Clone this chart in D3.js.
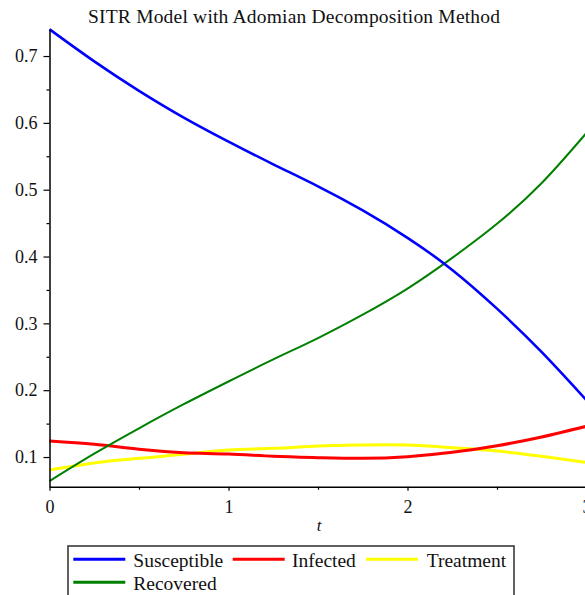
<!DOCTYPE html>
<html>
<head>
<meta charset="utf-8">
<script src="https://cdn.jsdelivr.net/npm/d3@7"></script>
<style>
  html, body { margin: 0; padding: 0; background: #fff; }
  svg { display: block; }
  text { font-family: "Liberation Serif", "DejaVu Serif", serif; fill: #111; }
</style>
</head>
<body>
<svg id="chart" width="585" height="595"></svg>
<script>
const tValues = [0, 0.25, 0.5, 0.75, 1.0, 1.25, 1.5, 1.75, 2.0, 2.25, 2.5, 2.75, 3.0];
const susceptible = [0.740, 0.692, 0.648, 0.608, 0.572, 0.538, 0.505, 0.469, 0.428, 0.380, 0.322, 0.257, 0.185];
const infected    = [0.124, 0.119, 0.1115, 0.1065, 0.1045, 0.101, 0.099, 0.098, 0.1005, 0.107, 0.117, 0.130, 0.146];
const treatment   = [0.0805, 0.091, 0.098, 0.104, 0.1105, 0.113, 0.1165, 0.118, 0.118, 0.114, 0.109, 0.101, 0.092];
const recovered   = [0.064, 0.105, 0.143, 0.179, 0.213, 0.246, 0.278, 0.313, 0.352, 0.398, 0.449, 0.510, 0.585];
const xMajorTicks = [0, 1, 2, 3];
const xMinorTicks = [0.5, 1.5, 2.5];
const yMajorTicks = [0.1, 0.2, 0.3, 0.4, 0.5, 0.6, 0.7];
const yMinorTicks = [0.15, 0.25, 0.35, 0.45, 0.55, 0.65];
const seriesNames = ["Susceptible", "Infected", "Treatment", "Recovered"];
const seriesColors = ["#0000ff", "#ff0000", "#ffff00", "#008000"];

const series = [
  {name: seriesNames[0], color: seriesColors[0], values: susceptible, width: 2.6},
  {name: seriesNames[1], color: seriesColors[1], values: infected, width: 3},
  {name: seriesNames[2], color: seriesColors[2], values: treatment, width: 3},
  {name: seriesNames[3], color: seriesColors[3], values: recovered, width: 2}
];

const svg = d3.select("#chart");
const x = d3.scaleLinear().domain([0, 3]).range([49.5, 586.5]);
const y = d3.scaleLinear().domain([0.0556, 0.74]).range([486.7, 29.3]);

// Title
svg.append("text")
  .attr("x", 294).attr("y", 23)
  .attr("text-anchor", "middle")
  .attr("font-size", 19.5)
  .attr("textLength", 412)
  .attr("lengthAdjust", "spacing")
  .text("SITR Model with Adomian Decomposition Method");

// Lines
const line = d3.line().x((d, i) => x(tValues[i])).y(d => y(d)).curve(d3.curveNatural);
[2, 1, 3, 0].forEach(k => {
  const s = series[k];
  svg.append("path")
    .attr("d", line(s.values))
    .attr("fill", "none")
    .attr("stroke", s.color)
    .attr("stroke-width", s.width);
});

// Y axis
const yAxisMajor = d3.axisLeft(y).tickValues(yMajorTicks).tickSize(6).tickSizeOuter(0).tickPadding(6)
  .tickFormat(d3.format(".1f"));
const gy = svg.append("g").attr("transform", `translate(${x(0)},0)`).call(yAxisMajor);
gy.select(".domain").attr("stroke", "#000").attr("stroke-width", 1.5);
gy.selectAll(".tick line").attr("stroke", "#000").attr("stroke-width", 1.2);
gy.selectAll(".tick text").attr("font-family", "Liberation Serif, serif").attr("font-size", 18).attr("fill", "#111");
const gyMinor = svg.append("g").attr("transform", `translate(${x(0)},0)`)
  .call(d3.axisLeft(y).tickValues(yMinorTicks).tickSize(3).tickFormat(""));
gyMinor.select(".domain").remove();
gyMinor.selectAll(".tick line").attr("stroke", "#000").attr("stroke-width", 1.2);

// X axis
const xAxisMajor = d3.axisBottom(x).tickValues(xMajorTicks).tickSize(4).tickSizeOuter(0)
  .tickFormat(d3.format("d"));
const gx = svg.append("g").attr("transform", `translate(0,${y(0.0556)})`).call(xAxisMajor);
gx.select(".domain").attr("stroke", "#000").attr("stroke-width", 1.5);
gx.selectAll(".tick line").attr("stroke", "#000").attr("stroke-width", 1.2);
gx.selectAll(".tick text").attr("font-family", "Liberation Serif, serif").attr("font-size", 18).attr("fill", "#111")
  .attr("y", 26.8).attr("dy", 0);
const gxMinor = svg.append("g").attr("transform", `translate(0,${y(0.0556)})`)
  .call(d3.axisBottom(x).tickValues(xMinorTicks).tickSize(3).tickFormat(""));
gxMinor.select(".domain").remove();
gxMinor.selectAll(".tick line").attr("stroke", "#000").attr("stroke-width", 1.2);

// X axis label
svg.append("text")
  .attr("x", 319).attr("y", 531)
  .attr("text-anchor", "middle")
  .attr("font-size", 17)
  .attr("font-style", "italic")
  .text("t");

// Legend
const legend = svg.append("g");
legend.append("rect")
  .attr("x", 68).attr("y", 546).attr("width", 446).attr("height", 60)
  .attr("fill", "#fff").attr("stroke", "#3a3a3a").attr("stroke-width", 1.6);
const legendPos = [
  {lx: 73.3, ly: 559.3, tx: 133.3},
  {lx: 232.7, ly: 559.3, tx: 292},
  {lx: 366, ly: 559.3, tx: 426.7},
  {lx: 73.3, ly: 582.3, tx: 133.3}
];
series.forEach((s, i) => {
  const p = legendPos[i];
  legend.append("line")
    .attr("x1", p.lx).attr("x2", p.lx + 52)
    .attr("y1", p.ly).attr("y2", p.ly)
    .attr("stroke", s.color).attr("stroke-width", 3);
  legend.append("text")
    .attr("x", p.tx).attr("y", p.ly + 7.5)
    .attr("font-size", 19.5)
    .text(s.name);
});
</script>
</body>
</html>
